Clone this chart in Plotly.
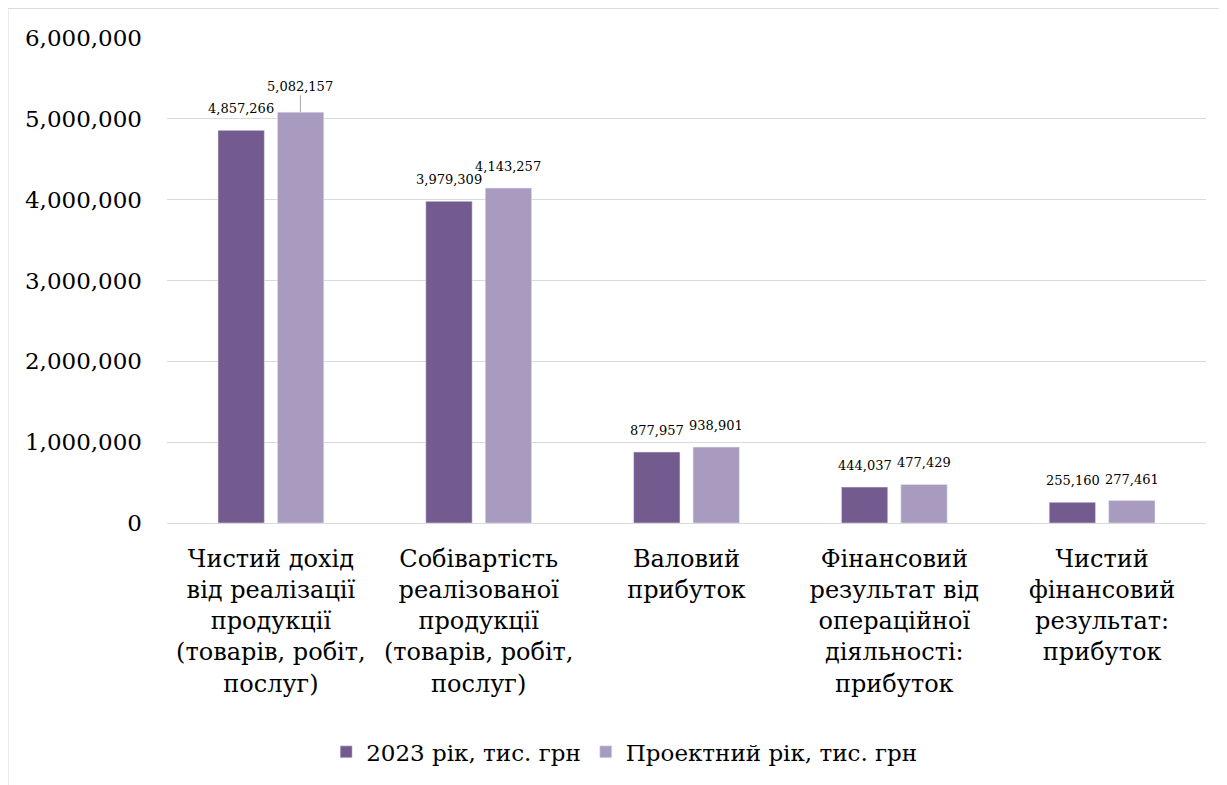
import plotly.graph_objects as go

categories = [
    "Чистий дохід<br>від реалізації<br>продукції<br>(товарів, робіт,<br>послуг)",
    "Собівартість<br>реалізованої<br>продукції<br>(товарів, робіт,<br>послуг)",
    "Валовий<br>прибуток",
    "Фінансовий<br>результат від<br>операційної<br>діяльності:<br>прибуток",
    "Чистий<br>фінансовий<br>результат:<br>прибуток",
]
series_names = ["2023 рік, тис. грн", "Проектний рік, тис. грн"]
values_2023 = [4857266, 3979309, 877957, 444037, 255160]
values_project = [5082157, 4143257, 938901, 477429, 277461]
y_ticks = [0, 1000000, 2000000, 3000000, 4000000, 5000000, 6000000]

dark = "#735A8F"
light = "#A99BC0"
font_family = "DejaVu Serif"

fig = go.Figure()
fig.add_trace(go.Bar(x=categories, y=values_2023, name=series_names[0], marker_color=dark))
fig.add_trace(go.Bar(x=categories, y=values_project, name=series_names[1], marker_color=light))

annotations = []
for vals, shift in ((values_2023, -29.5), (values_project, 29.5)):
    for c, v in zip(categories, vals):
        if v == max(values_project):
            annotations.append(dict(
                x=c, y=v, xref="x", yref="y", text=f"{v:,}", xshift=shift,
                showarrow=True, arrowhead=0, arrowwidth=1, arrowcolor="#A6A6A6",
                ax=0, ay=-26, standoff=0, startstandoff=0,
                font=dict(family=font_family, size=13, color="#000000"),
            ))
        else:
            annotations.append(dict(
                x=c, y=v, xref="x", yref="y", text=f"{v:,}", xshift=shift,
                yshift=12, yanchor="bottom", showarrow=False,
                font=dict(family=font_family, size=13, color="#000000"),
            ))

fig.update_layout(
    width=1219, height=777,
    margin=dict(l=159, r=21, t=30, b=254),
    paper_bgcolor="white", plot_bgcolor="white",
    barmode="group", bargap=0.428, bargroupgap=0.22,
    font=dict(family=font_family, size=23, color="#000000"),
    annotations=annotations,
    showlegend=True,
    legend=dict(orientation="h", x=0.44, xanchor="center", y=-0.472, yanchor="middle",
                font=dict(family=font_family, size=23, color="#000000"),
                itemwidth=30, traceorder="normal"),
    shapes=[dict(type="rect", xref="paper", yref="paper",
                 x0=-0.153, x1=1.0195, y0=-0.6, y1=1.061,
                 line=dict(color="#D9D9D9", width=1), fillcolor="rgba(0,0,0,0)", layer="below")],
)
fig.update_xaxes(showline=True, linecolor="#D9D9D9", linewidth=1, ticks="", automargin=False,
                 tickfont=dict(family=font_family, size=24), ticklabelstandoff=14)
fig.update_yaxes(range=[0, 6000000], tickvals=y_ticks, tickformat=",", showgrid=True,
                 gridcolor="#D9D9D9", gridwidth=1, zeroline=False, showline=False, automargin=False,
                 tickfont=dict(family=font_family, size=23), ticklabelstandoff=24)

fig.write_html("out.html")
